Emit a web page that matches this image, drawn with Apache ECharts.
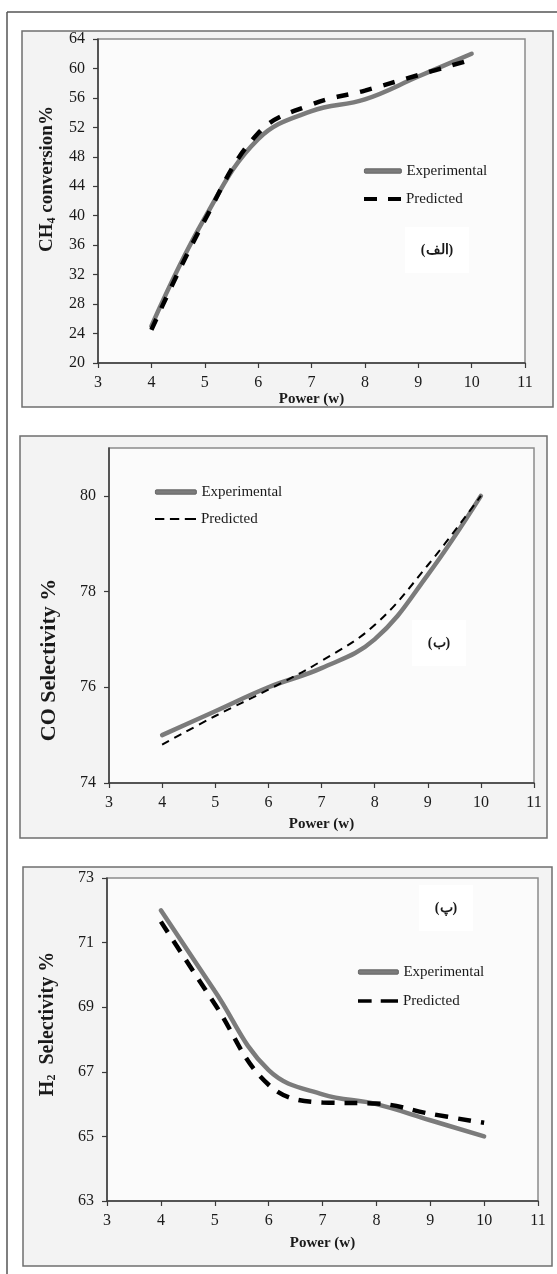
<!DOCTYPE html>
<html>
<head>
<meta charset="utf-8">
<script src="https://cdn.jsdelivr.net/npm/echarts@6/dist/echarts.min.js"></script>
<style>
html,body{margin:0;padding:0;background:#ffffff;}
#chart{width:557px;height:1274px;}
</style>
</head>
<body>
<div id="chart"></div>
<script>
// ---- data ----
const power = [4, 5, 6, 7, 8, 9, 10];
const xTicks = [3, 4, 5, 6, 7, 8, 9, 10, 11];

const ch4Experimental = [25.0, 39.7, 50.4, 54.2, 55.8, 58.9, 62.0];
const ch4Predicted    = [24.5, 39.4, 51.2, 55.1, 57.0, 59.1, 61.2];
const ch4Ticks = [20, 24, 28, 32, 36, 40, 44, 48, 52, 56, 60, 64];

const coExperimental = [75.0, 75.5, 76.0, 76.4, 77.0, 78.35, 80.0];
const coPredicted    = [74.8, 75.4, 75.95, 76.55, 77.3, 78.55, 80.0];
const coTicks = [74, 76, 78, 80];

const h2Experimental = [72.0, 69.5, 67.05, 66.3, 66.0, 65.5, 65.0];
const h2Predicted    = [71.65, 69.1, 66.6, 66.05, 66.02, 65.7, 65.42];
const h2Ticks = [63, 65, 67, 69, 71, 73];

const legendNames = ['Experimental', 'Predicted'];
const xTitle = 'Power (w)';
const panelLabels = ['(الف)', '(ب)', '(پ)'];

// ---- styling ----
const SERIF = 'Liberation Serif, Times New Roman, serif';
const TXT = '#1a1a1a';
const AX = '#3a3a3a';

function pairs(xs, ys) { return xs.map((x, i) => [x, ys[i]]); }

const grids = [
  {left: 98, top: 39, width: 427, height: 324},
  {left: 109, top: 448, width: 425, height: 335},
  {left: 107, top: 878, width: 431, height: 323}
].map(g => Object.assign(g, {show: true, backgroundColor: '#fbfbfb', borderColor: '#8c8c8c', borderWidth: 1.5}));

const nameGaps = [26, 34, 35];
const xAxes = [0, 1, 2].map(i => ({
  gridIndex: i, type: 'value', min: xTicks[0], max: xTicks[xTicks.length - 1], interval: 1,
  axisLine: {show: true, lineStyle: {color: AX, width: 1.5}},
  axisTick: {show: true, inside: false, length: 5, lineStyle: {color: AX, width: 1.2}},
  axisLabel: {margin: 12, fontFamily: SERIF, fontSize: 16, color: TXT},
  splitLine: {show: false},
  name: xTitle, nameLocation: 'middle', nameGap: nameGaps[i],
  nameTextStyle: {fontFamily: SERIF, fontSize: 15, fontWeight: 'bold', color: TXT}
}));

const yBase = {
  type: 'value',
  axisLine: {show: true, lineStyle: {color: AX, width: 1.5}},
  axisTick: {show: true, inside: false, length: 5, lineStyle: {color: AX, width: 1.2}},
  axisLabel: {margin: 13, fontFamily: SERIF, fontSize: 16, color: TXT},
  splitLine: {show: false}
};
const yAxes = [
  Object.assign({}, yBase, {gridIndex: 0, min: ch4Ticks[0], max: ch4Ticks[ch4Ticks.length - 1], interval: 4}),
  Object.assign({}, yBase, {gridIndex: 1, min: 74, max: 81,
    axisTick: Object.assign({}, yBase.axisTick, {customValues: coTicks}),
    axisLabel: Object.assign({}, yBase.axisLabel, {customValues: coTicks})}),
  Object.assign({}, yBase, {gridIndex: 2, min: h2Ticks[0], max: h2Ticks[h2Ticks.length - 1],
    axisTick: Object.assign({}, yBase.axisTick, {customValues: h2Ticks}),
    axisLabel: Object.assign({}, yBase.axisLabel, {customValues: h2Ticks})})
];

const EXP_COLOR = '#7b7b7b';
function sname(k, i) { return legendNames[k] + ' '.repeat(i); }
function expSeries(i, vals) {
  return {
    name: sname(0, i), type: 'line', xAxisIndex: i, yAxisIndex: i,
    data: pairs(power, vals), smooth: 0.4, symbol: 'none',
    lineStyle: {color: EXP_COLOR, width: 4.5, cap: 'round'}, itemStyle: {color: EXP_COLOR}, z: 3
  };
}
function predSeries(i, vals, width, dash) {
  return {
    name: sname(1, i), type: 'line', xAxisIndex: i, yAxisIndex: i,
    data: pairs(power, vals), smooth: 0.4, symbol: 'none',
    lineStyle: {color: '#000', width: width, type: dash}, itemStyle: {color: '#000'}, z: 4
  };
}

// one legend component per entry so every entry sits where the reference has it
function legendItem(name, icon, left, centerY, itemWidth, itemHeight, color, border) {
  return {
    orient: 'vertical', left: left, top: centerY - 8, itemWidth: itemWidth, itemHeight: itemHeight,
    padding: 0, selectedMode: false,
    data: [{name: name, icon: icon, itemStyle: {color: color, borderColor: border || color, borderWidth: border ? 0.8 : 0}}],
    formatter: n => n.trim(),
    textStyle: {fontFamily: SERIF, fontSize: 15, color: TXT, lineHeight: 16}
  };
}
const EXP_ICON = 'roundRect';
const DASH_THICK = 'path://M0,0h13v4h-13zM24,0h13v4h-13z';
const DASH_THIN = 'path://M0,0h10v2h-10zM16,0h10v2h-10zM32,0h12v2h-12z';
const DASH_THICK3 = 'path://M0,0h15v4h-15zM25,0h19v4h-19z';

function yTitle(x, y, main, sub, rest, size) {
  return {
    type: 'text', x: x, y: y, rotation: Math.PI / 2, z: 20,
    style: {
      text: '{a|' + main + '}' + (sub ? '{b|' + sub + '}' : '') + (rest ? '{a|' + rest + '}' : ''),
      align: 'center', verticalAlign: 'middle',
      rich: {
        a: {fontFamily: SERIF, fontSize: size, fontWeight: 'bold', fill: TXT, lineHeight: 20, verticalAlign: 'top'},
        b: {fontFamily: SERIF, fontSize: Math.round(size * 0.62), fontWeight: 'bold', fill: TXT, lineHeight: 11, verticalAlign: 'bottom'}
      }
    }
  };
}

function panelLabel(x, y, t) {
  return {
    type: 'text', x: x, y: y, z: 20,
    style: {text: t, align: 'center', verticalAlign: 'middle', fontFamily: SERIF, fontSize: 14, fontWeight: 'bold',
      fill: TXT, backgroundColor: '#ffffff', padding: [16, 16, 16, 16]}
  };
}

function frame(x1, y1, x2, y2) {
  return {type: 'rect', z: -5, shape: {x: x1, y: y1, width: x2 - x1, height: y2 - y1},
    style: {fill: '#f3f3f3', stroke: '#6f6f6f', lineWidth: 1.5}};
}
function line(x1, y1, x2, y2) {
  return {type: 'line', z: -4, shape: {x1: x1, y1: y1, x2: x2, y2: y2}, style: {stroke: '#555', lineWidth: 1.5}};
}

const option = {
  backgroundColor: '#ffffff',
  animation: false,
  grid: grids,
  xAxis: xAxes,
  yAxis: yAxes,
  legend: [
    legendItem(sname(0, 0), EXP_ICON, 364, 171, 37, 4.5, EXP_COLOR, '#555'),
    legendItem(sname(1, 0), DASH_THICK, 364, 199, 37, 4.5, '#000'),
    legendItem(sname(0, 1), EXP_ICON, 155, 492, 41, 4.5, EXP_COLOR, '#555'),
    legendItem(sname(1, 1), DASH_THIN, 155, 519, 41, 2, '#000'),
    legendItem(sname(0, 2), EXP_ICON, 358, 972, 40, 4.5, EXP_COLOR, '#555'),
    legendItem(sname(1, 2), DASH_THICK3, 358, 1001, 40, 4.5, '#000')
  ],
  series: [
    expSeries(0, ch4Experimental), predSeries(0, ch4Predicted, 4.5, [12, 12]),
    expSeries(1, coExperimental), predSeries(1, coPredicted, 2, [8, 6]),
    expSeries(2, h2Experimental), predSeries(2, h2Predicted, 4.5, [13, 10])
  ],
  graphic: [
    line(7, 12, 557, 12), line(7, 12, 7, 1274),
    frame(22, 31, 553, 407),
    frame(20, 436, 547, 838),
    frame(23, 867, 552, 1266),
    yTitle(48, 179, 'CH', '4', ' conversion%', 19),
    yTitle(48, 660, 'CO Selectivity %', '', '', 22),
    yTitle(48, 1024, 'H', '2', '  Selectivity %', 20),
    panelLabel(437, 250, panelLabels[0]),
    panelLabel(439, 643, panelLabels[1]),
    panelLabel(446, 908, panelLabels[2])
  ]
};

const chart = echarts.init(document.getElementById('chart'), null, {renderer: 'canvas'});
chart.setOption(option);
</script>
</body>
</html>
